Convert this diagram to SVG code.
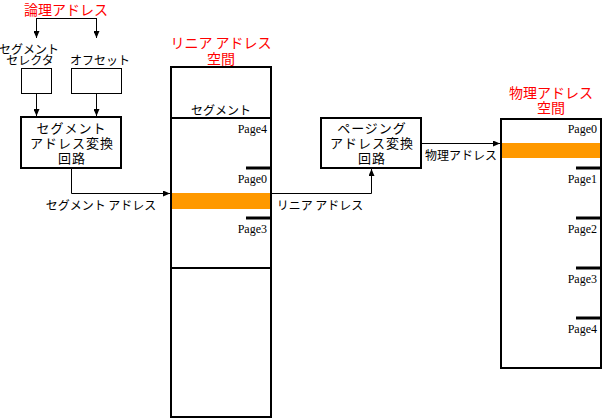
<svg xmlns="http://www.w3.org/2000/svg" width="603" height="420" viewBox="0 0 603 420">
<style>
.jp{font-family:"Noto Sans CJK JP","Noto Sans",sans-serif;fill:#000;text-anchor:middle}
.red{fill:#f00;font-size:14px}
.lbl{font-size:12px}
.box{font-size:13px;letter-spacing:1px}
.pg{font-family:"Liberation Serif",serif;font-size:12px;text-anchor:end;fill:#000}
.thick{fill:#fff;stroke:#000;stroke-width:2}
.thin{fill:#fff;stroke:#000;stroke-width:1}
.tick{stroke:#000;stroke-width:3}
.con{fill:none;stroke:#000;stroke-width:1}
.band{fill:#ff9900}
</style>
<defs>
<marker id="ah" markerUnits="userSpaceOnUse" markerWidth="7" markerHeight="6" refX="7" refY="3" orient="auto">
<path d="M0,0 L7,3 L0,6 Z" fill="#000"/>
</marker>
</defs>
<rect width="603" height="420" fill="#fff"/>

<g id="logical-title">
<text class="jp red" x="66" y="15">論理アドレス</text>
</g>
<g id="selector">
<text class="jp lbl" x="29" y="54">セグメント</text>
<text class="jp lbl" x="30" y="65">セレクタ</text>
<rect class="thin" x="21.5" y="68.5" width="30" height="25"/>
</g>
<g id="offset">
<text class="jp lbl" x="100" y="65">オフセット</text>
<rect class="thin" x="71.5" y="68.5" width="50" height="25"/>
</g>
<g id="seg-unit">
<rect class="thick" x="21" y="117" width="100" height="51"/>
<text class="jp box" x="71.5" y="133">セグメント</text>
<text class="jp box" x="72" y="148">アドレス変換</text>
<text class="jp box" x="72" y="163">回路</text>
</g>
<g id="linear-space">
<text class="jp red" x="221" y="48">リニア アドレス</text>
<text class="jp red" x="221" y="64">空間</text>
<rect class="thick" x="171" y="67" width="100" height="350"/>
<line class="tick" x1="171" y1="118" x2="271" y2="118" style="stroke-width:2"/>
<line class="tick" x1="171" y1="268" x2="271" y2="268" style="stroke-width:2"/>
<text class="jp lbl" x="221" y="115">セグメント</text>
<text class="pg" x="267" y="133">Page4</text>
<line class="tick" x1="246" y1="168" x2="271" y2="168"/>
<text class="pg" x="267" y="183">Page0</text>
<rect class="band" x="172" y="193" width="98" height="16"/>
<line class="tick" x1="246" y1="218" x2="271" y2="218"/>
<text class="pg" x="267" y="233">Page3</text>
</g>
<g id="paging-unit">
<rect class="thick" x="321" y="118" width="100" height="50"/>
<text class="jp box" x="372" y="133">ページング</text>
<text class="jp box" x="372" y="148">アドレス変換</text>
<text class="jp box" x="372" y="163">回路</text>
</g>
<g id="physical-space">
<text class="jp red" x="551" y="98">物理アドレス</text>
<text class="jp red" x="551" y="113">空間</text>
<rect class="thick" x="501" y="119" width="100" height="249"/>
<text class="pg" x="597" y="133">Page0</text>
<rect class="band" x="502" y="143" width="98" height="15"/>
<line class="tick" x1="576" y1="168" x2="601" y2="168"/>
<text class="pg" x="597" y="183">Page1</text>
<line class="tick" x1="576" y1="218" x2="601" y2="218"/>
<text class="pg" x="597" y="233">Page2</text>
<line class="tick" x1="576" y1="268" x2="601" y2="268"/>
<text class="pg" x="597" y="283">Page3</text>
<line class="tick" x1="576" y1="318" x2="601" y2="318"/>
<text class="pg" x="597" y="333">Page4</text>
</g>

<g id="connectors">
<path class="con" d="M36.5,18.5 H96.5"/>
<path class="con" d="M36.5,18 V38" marker-end="url(#ah)"/>
<path class="con" d="M96.5,18 V38" marker-end="url(#ah)"/>
<path class="con" d="M36.5,94 V116" marker-end="url(#ah)"/>
<path class="con" d="M96.5,94 V116" marker-end="url(#ah)"/>
<path class="con" d="M71.5,169 V193.5 H170" marker-end="url(#ah)"/>
<path class="con" d="M272,193.5 H371.5 V169" marker-end="url(#ah)"/>
<path class="con" d="M422,143.5 H500" marker-end="url(#ah)"/>
<text class="jp lbl" x="101" y="210">セグメント アドレス</text>
<text class="jp lbl" x="320" y="210">リニア アドレス</text>
<text class="jp lbl" x="461" y="160">物理アドレス</text>
</g>
</svg>
